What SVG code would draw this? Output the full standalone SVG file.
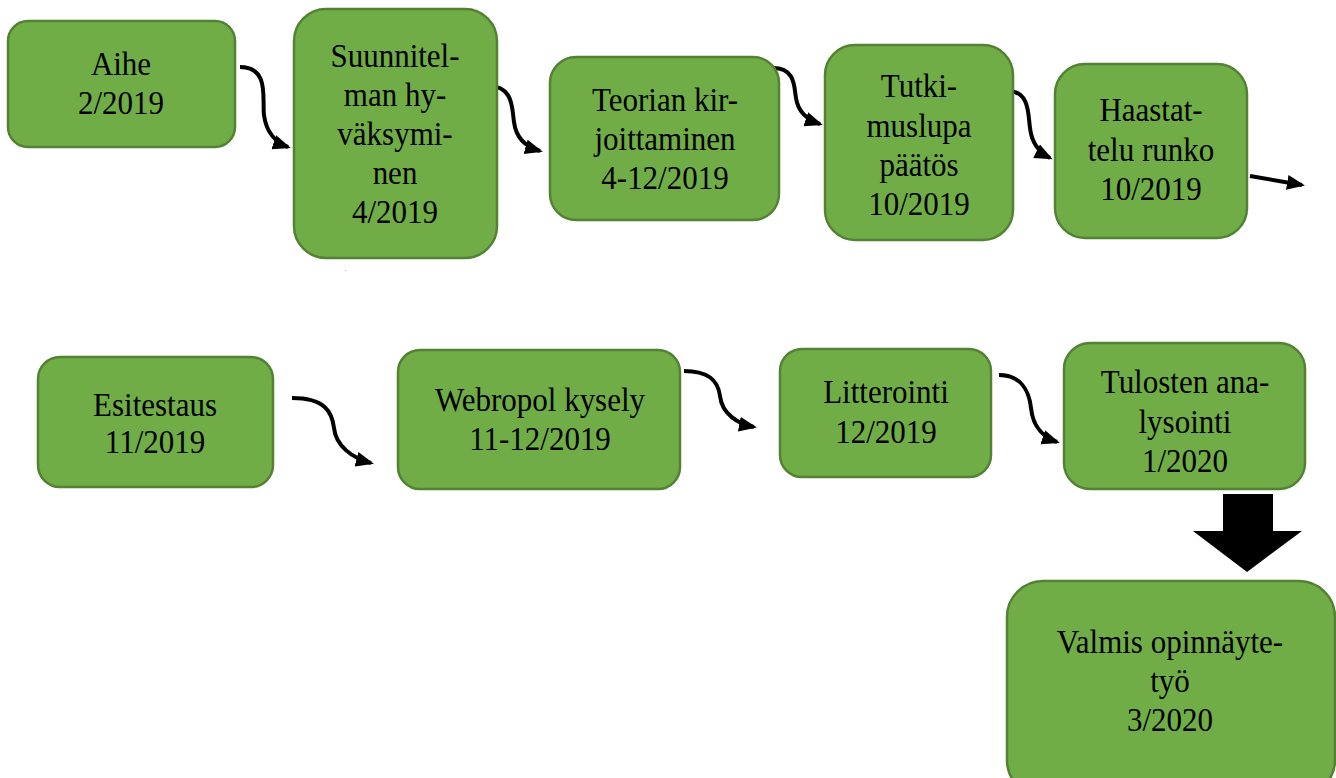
<svg xmlns="http://www.w3.org/2000/svg" width="1336" height="778" viewBox="0 0 1336 778">
<style>
.box{fill:#70AD47;stroke:#548235;stroke-width:2.5}
.t{font-family:"Liberation Serif","Times New Roman",serif;font-size:31px;fill:#000;text-anchor:middle}
.c{fill:none;stroke:#000;stroke-width:4}
</style>
<defs>
<marker id="ah" markerUnits="userSpaceOnUse" markerWidth="18" markerHeight="16" viewBox="0 0 18 16" refX="15" refY="8" orient="auto">
<path d="M0,0.5 L18,8 L0,15.5 Z" fill="#000"/>
</marker>
</defs>
<rect width="1336" height="778" fill="#fff"/>
<g id="connectors">
<path class="c" marker-end="url(#ah)" d="M240,67 C270,67 262,100 264,115 C266,132 276,143 288,147"/>
<path class="c" marker-end="url(#ah)" d="M489,86 C514,86 512,110 514,122 C516,138 526,147 540,151"/>
<path class="c" marker-end="url(#ah)" d="M773,68 C796,68 794,88 796,98 C798,112 808,120 820,124"/>
<path class="c" marker-end="url(#ah)" d="M1008,91 C1030,91 1028,115 1030,128 C1032,145 1040,153 1050,158"/>
<path class="c" marker-end="url(#ah)" d="M1250,176 L1302,185"/>
<path class="c" marker-end="url(#ah)" d="M292,398 C325,398 332,412 334,428 C336,446 352,458 371,463"/>
<path class="c" marker-end="url(#ah)" d="M684,371 C708,371 718,380 720,396 C722,414 738,424 754,427"/>
<path class="c" marker-end="url(#ah)" d="M999,375 C1020,375 1029,390 1031,408 C1033,428 1045,438 1057,442"/>
<path id="bigarrow" d="M1223,494 L1273,494 L1273,531 L1302,531 L1247,572 L1193,531 L1223,531 Z" fill="#000"/>
</g>
<g id="n1"><rect class="box" x="8" y="21" width="227" height="126" rx="20"/>
<text class="t" transform="translate(121,75) scale(1,1.08)">Aihe</text><text class="t" transform="translate(121,114) scale(1,1.08)">2/2019</text></g>
<g id="n2"><rect class="box" x="294" y="9" width="203" height="249" rx="32"/>
<text class="t" transform="translate(395,67) scale(1,1.08)">Suunnitel-</text><text class="t" transform="translate(395,106) scale(1,1.08)">man hy-</text><text class="t" transform="translate(395,145) scale(1,1.08)">väksymi-</text><text class="t" transform="translate(395,184) scale(1,1.08)">nen</text><text class="t" transform="translate(395,223) scale(1,1.08)">4/2019</text></g>
<g id="n3"><rect class="box" x="550" y="57" width="229" height="163" rx="26"/>
<text class="t" transform="translate(665,111) scale(1,1.08)">Teorian kir-</text><text class="t" transform="translate(665,150) scale(1,1.08)">joittaminen</text><text class="t" transform="translate(665,189) scale(1,1.08)">4-12/2019</text></g>
<g id="n4"><rect class="box" x="825" y="45" width="188" height="195" rx="30"/>
<text class="t" transform="translate(919,97) scale(1,1.08)">Tutki-</text><text class="t" transform="translate(919,137) scale(1,1.08)">muslupa</text><text class="t" transform="translate(919,176) scale(1,1.08)">päätös</text><text class="t" transform="translate(919,215) scale(1,1.08)">10/2019</text></g>
<g id="n5"><rect class="box" x="1055" y="64" width="192" height="174" rx="30"/>
<text class="t" transform="translate(1151,121) scale(1,1.08)">Haastat-</text><text class="t" transform="translate(1151,161) scale(1,1.08)">telu runko</text><text class="t" transform="translate(1151,200) scale(1,1.08)">10/2019</text></g>
<g id="n6"><rect class="box" x="38" y="357" width="235" height="130" rx="22"/>
<text class="t" transform="translate(155,416) scale(1,1.08)">Esitestaus</text><text class="t" transform="translate(155,453) scale(1,1.08)">11/2019</text></g>
<g id="n7"><rect class="box" x="398" y="350" width="282" height="139" rx="22"/>
<text class="t" transform="translate(540,411) scale(1,1.08)">Webropol kysely</text><text class="t" transform="translate(540,450) scale(1,1.08)">11-12/2019</text></g>
<g id="n8"><rect class="box" x="780" y="349" width="211" height="128" rx="22"/>
<text class="t" transform="translate(886,403) scale(1,1.08)">Litterointi</text><text class="t" transform="translate(886,443) scale(1,1.08)">12/2019</text></g>
<g id="n9"><rect class="box" x="1064" y="343" width="241" height="146" rx="26"/>
<text class="t" transform="translate(1185,393) scale(1,1.08)">Tulosten ana-</text><text class="t" transform="translate(1185,433) scale(1,1.08)">lysointi</text><text class="t" transform="translate(1185,472) scale(1,1.08)">1/2020</text></g>
<g id="n10"><rect class="box" x="1007" y="581" width="328" height="215" rx="36"/>
<text class="t" transform="translate(1170,653) scale(1,1.08)">Valmis opinnäyte-</text><text class="t" transform="translate(1170,692) scale(1,1.08)">työ</text><text class="t" transform="translate(1170,731) scale(1,1.08)">3/2020</text></g>
<rect x="345" y="270" width="1" height="1" fill="#9fb6d6"/>
</svg>
